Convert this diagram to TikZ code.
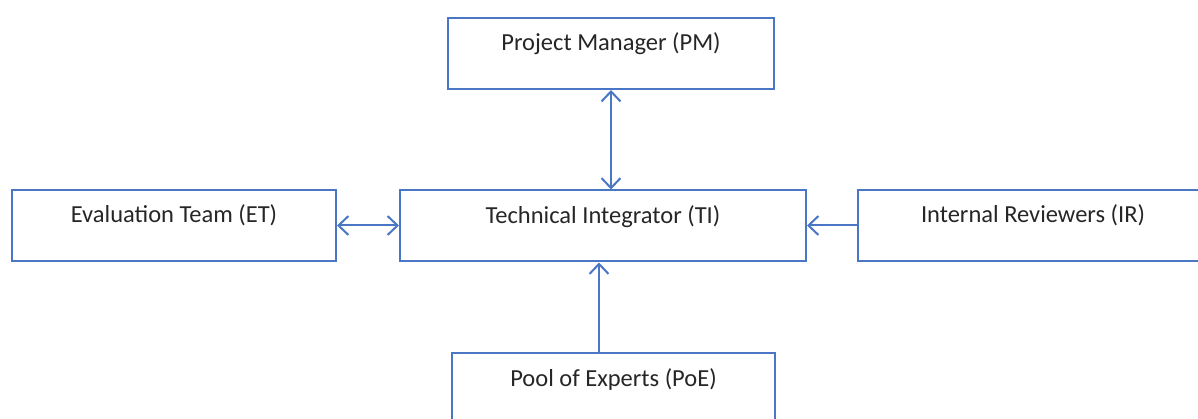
\documentclass[tikz,border=0pt]{standalone}
\usepackage{fontspec}
\setmainfont{Carlito}
\usetikzlibrary{arrows.meta}
\definecolor{boxblue}{HTML}{4A76C6}
\tikzset{
	% ------- every something
	every node/.style={
		font=\fontsize{24.5pt}{28pt}\selectfont,
		text=black!85,
	},
	% ------- custom
	unit/.style={
		draw=boxblue,
		line width=2pt,
		rectangle,
		inner sep=0pt,
		minimum width=#1,
		text height=33pt,
		text depth=38pt,
	},
	link/.style={
		draw=boxblue,
		line width=2pt,
	},
	tip/.style={
		{Straight Barb[length=10pt,width=19pt,line width=2pt]}-,
	},
	tips/.style={
		{Straight Barb[length=10pt,width=19pt,line width=2pt]}-{Straight Barb[length=10pt,width=19pt,line width=2pt]},
	},
}
\begin{document}
\begin{tikzpicture}[x=1pt,y=-1pt]

% bounding box %{{{2

	\useasboundingbox (0,0) rectangle (1198,419);
	\clip (0,0) rectangle (1198,419);

% units %{{{2

	\node[unit=326pt] (PM) at (611,53.5) {Project Manager (PM)};
	\node[unit=324pt] (ET) at (174,225.5) {Evaluation Team (ET)};
	\node[unit=406pt] (TI) at (603,226) {Technical Integrator (TI)};
	\node[unit=350pt] (IR) at (1033,225.5) {Internal Reviewers (IR)};
	\node[unit=323pt] (PoE) at (613.5,388.5) {Pool of Experts (PoE)};

% links %{{{2

	\draw[link, tips] (PM.south) -- (PM.south |- TI.north);
	\draw[link, tips] (ET.east) -- (ET.east -| TI.west);
	\draw[link, tip] (IR.west -| TI.east) -- (IR.west);
	\coordinate (PoEtop) at ([xshift=-14.5pt]PoE.north);
	\draw[link, tip] (PoEtop |- TI.south) -- (PoEtop);

% closing %{{{2

\end{tikzpicture}
\end{document}
